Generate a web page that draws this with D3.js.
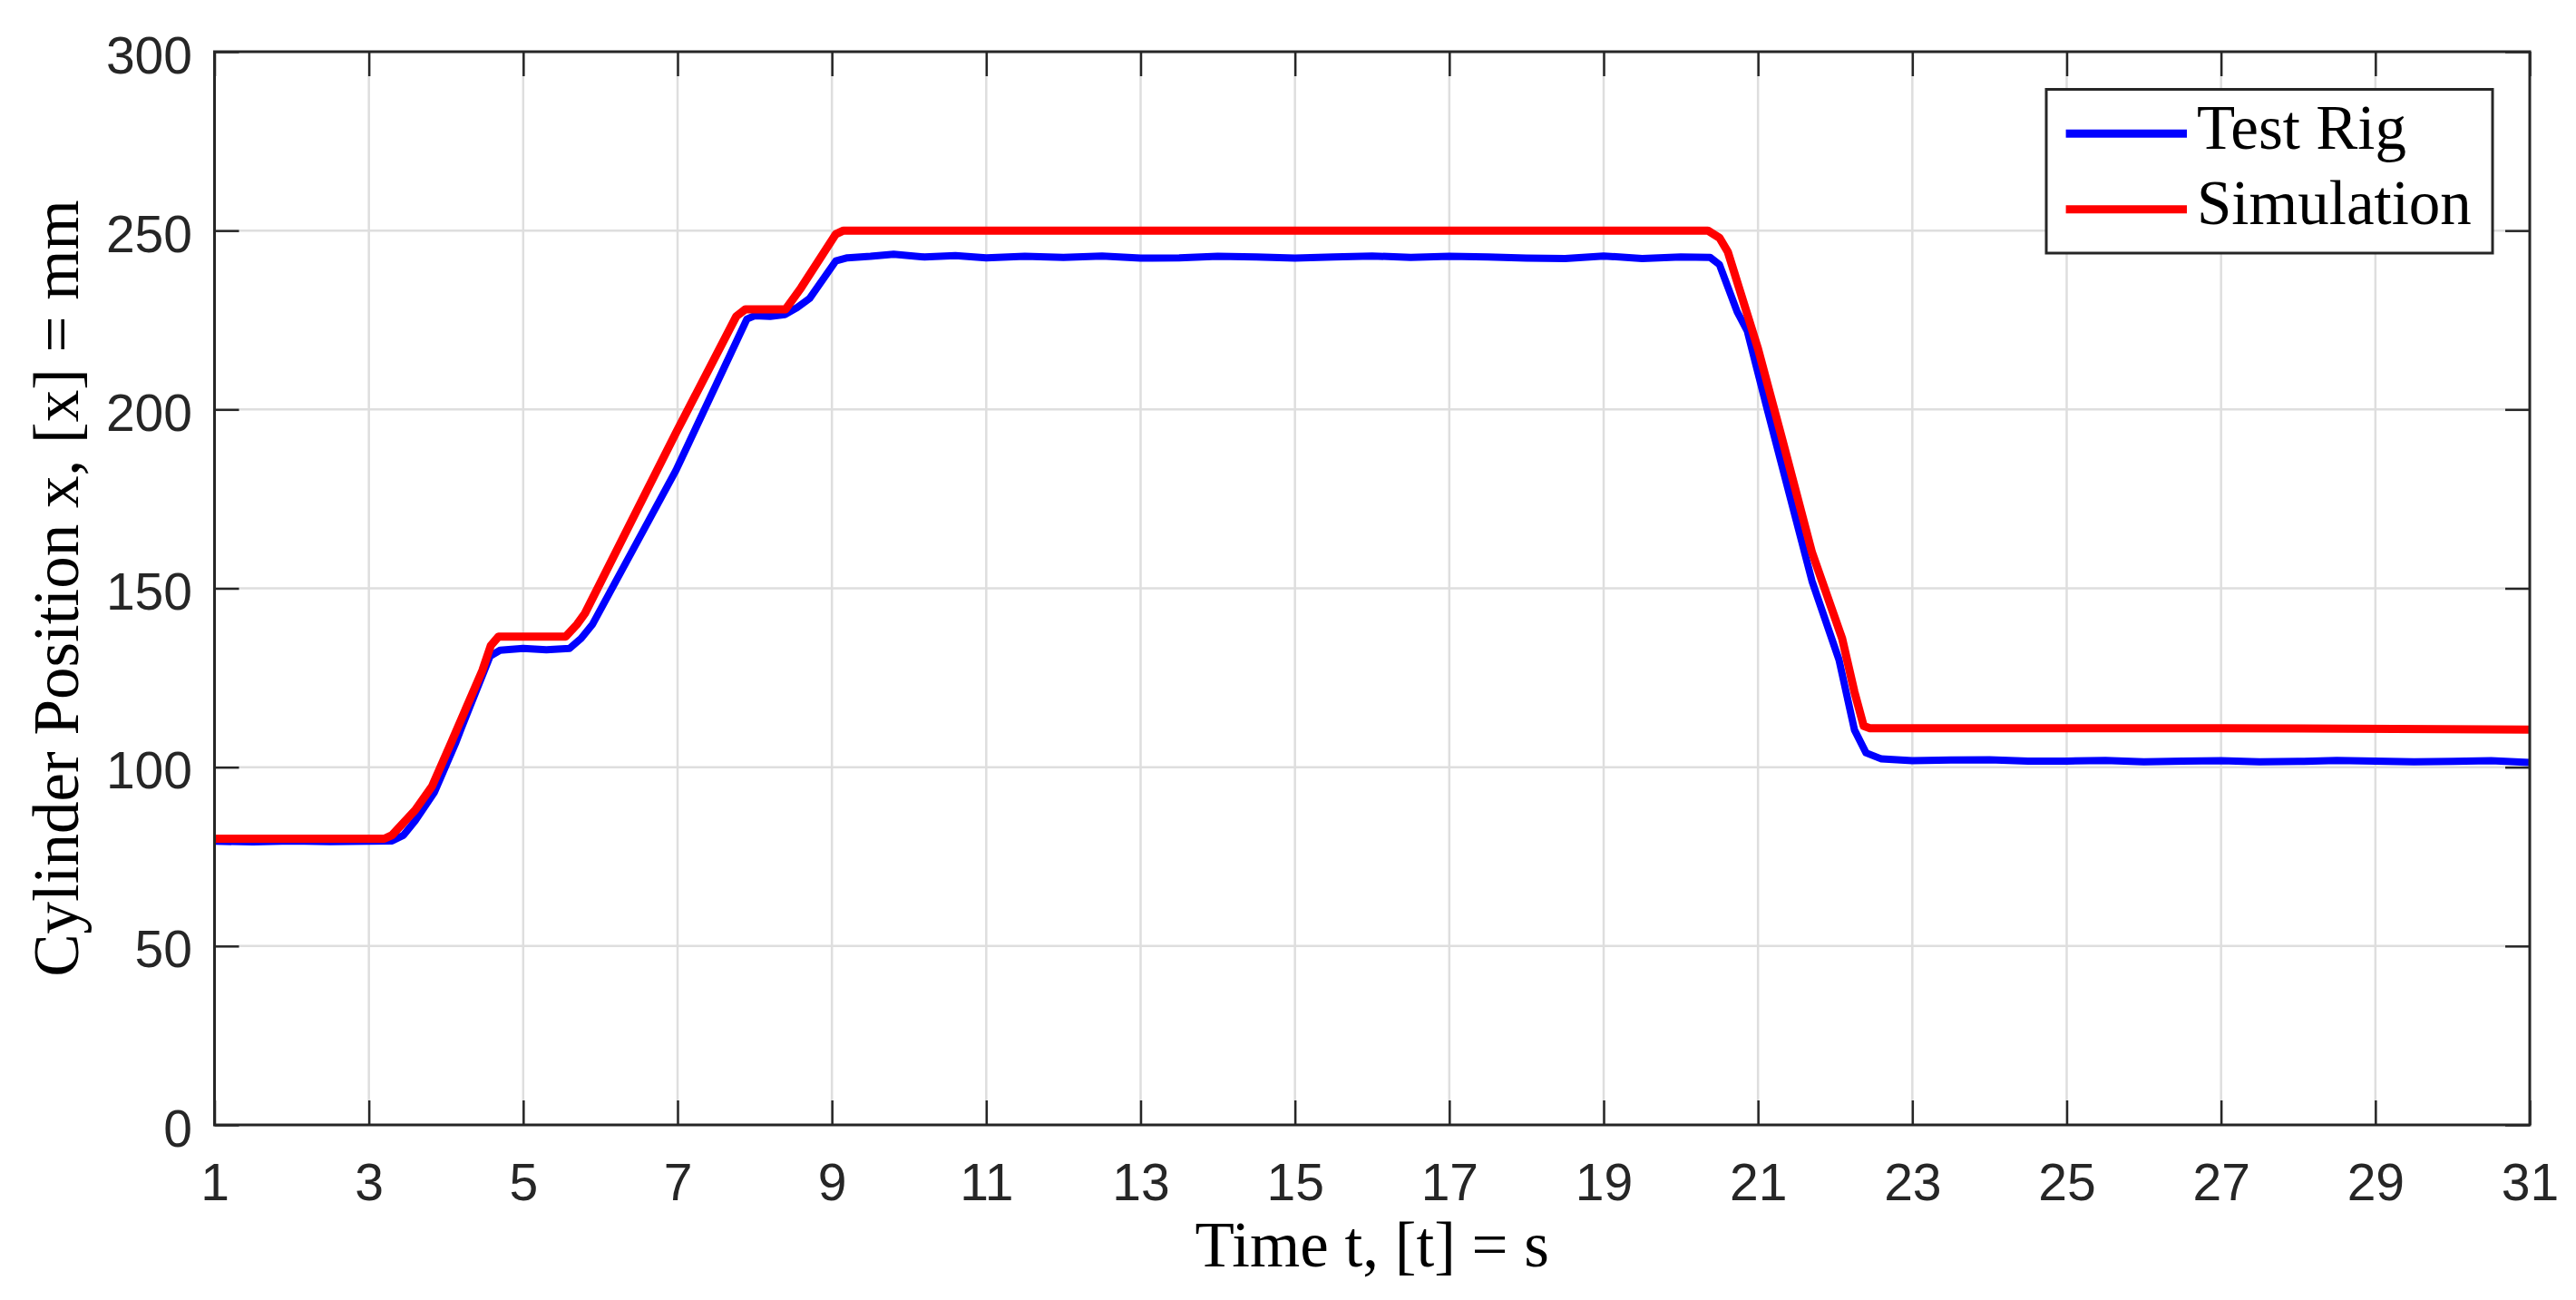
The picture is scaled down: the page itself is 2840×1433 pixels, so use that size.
<!DOCTYPE html>
<html>
<head>
<meta charset="utf-8">
<script src="https://cdn.jsdelivr.net/npm/d3@7"></script>
<style>
  html, body { margin: 0; padding: 0; background: #ffffff; }
  svg { display: block; }
</style>
</head>
<body>
<svg id="chart" width="2840" height="1433"></svg>
<script>
// ---- data ----
const xTicks = [1, 3, 5, 7, 9, 11, 13, 15, 17, 19, 21, 23, 25, 27, 29, 31];
const yTicks = [0, 50, 100, 150, 200, 250, 300];
const seriesNames = ["Test Rig", "Simulation"];
const seriesColors = ["#0000ff", "#ff0000"];
const xLabel = "Time t, [t] = s";
const yLabel = "Cylinder Position x, [x] = mm";

// Test Rig (measured) – time [s] and position [mm]
const rigTime = [1, 1.5, 2, 2.5, 3, 3.3, 3.45, 3.6, 3.85, 4.12, 4.2, 4.57, 4.7, 5.0, 5.3, 5.6, 5.75, 5.9, 6.98, 7.9, 8.0, 8.2, 8.39, 8.55, 8.71, 9.05, 9.2,
  9.5, 9.8, 10.2, 10.6, 11, 11.5, 12, 12.5, 13, 13.5, 14, 14.5, 15, 15.5, 16, 16.5, 17, 17.5, 18, 18.5, 19, 19.5, 20, 20.38,
  20.5, 20.73, 20.86, 21.12, 21.7, 22.05, 22.25, 22.4, 22.6, 23, 23.5, 24, 24.5, 25, 25.5, 26, 26.5, 27, 27.5, 28, 28.5, 29, 29.5, 30, 30.5, 31];
const rigPos = [79.3, 79.1, 79.4, 79.2, 79.3, 79.4, 81, 85, 93, 106.5, 111, 131, 132.7, 133.2, 132.8, 133.2, 136, 140, 183, 225.3, 226.2, 226.0, 226.5, 228.5, 231, 241.5, 242.4,
  242.8, 243.4, 242.6, 243.0, 242.4, 242.8, 242.5, 242.9, 242.3, 242.4, 242.8, 242.6, 242.3, 242.6, 242.9, 242.5, 242.8, 242.6, 242.3, 242.2, 242.9, 242.2, 242.6, 242.5,
  240.5, 227.3, 222, 200, 152, 130, 110.4, 104, 102.3, 101.8, 102.0, 102.1, 101.7, 101.7, 101.9, 101.5, 101.7, 101.8, 101.5, 101.6, 101.9, 101.7, 101.5, 101.6, 101.8, 101.3];

// Simulation – time [s] and position [mm]
const simTime = [1, 3.2, 3.3, 3.6, 3.82, 4.06, 4.15, 4.47, 4.58, 4.68, 5.55, 5.7, 5.8, 6.98, 7.76, 7.88, 8.4, 8.6, 9.05, 9.15, 20.35, 20.5, 20.61, 21, 21.31, 21.7, 22.09, 22.25, 22.37, 22.45, 27, 31];
const simPos  = [80, 80, 81, 88, 94.7, 106.5, 111, 127, 134, 136.5, 136.5, 140, 143, 193.5, 226, 228, 228, 234, 249, 250, 250, 248, 244, 217, 192, 160, 136, 121, 111.5, 110.9, 110.9, 110.5];

// ---- layout ----
const svg = d3.select("#chart");
const W = 2840, H = 1433;
const m = { left: 236.5, right: 2789, top: 57, bottom: 1240 };
const axisColor = "#262626";

svg.append("rect").attr("width", W).attr("height", H).attr("fill", "#ffffff");

const x = d3.scaleLinear().domain([1, 31]).range([m.left, m.right]);
const y = d3.scaleLinear().domain([0, 300]).range([m.bottom, m.top]);

// grid
const grid = svg.append("g");
grid.selectAll(".gx").data(xTicks.slice(1, -1)).join("line")
  .attr("x1", d => x(d)).attr("x2", d => x(d))
  .attr("y1", m.top).attr("y2", m.bottom)
  .attr("stroke", "#dedede").attr("stroke-width", 2.5);
grid.selectAll(".gy").data(yTicks.slice(1, -1)).join("line")
  .attr("y1", d => y(d)).attr("y2", d => y(d))
  .attr("x1", m.left).attr("x2", m.right)
  .attr("stroke", "#dedede").attr("stroke-width", 2.5);

// data lines
const line = d3.line().x(d => x(d[0])).y(d => y(d[1]));
const rigData = rigTime.map((t, i) => [t, rigPos[i]]);
const simData = simTime.map((t, i) => [t, simPos[i]]);

const clip = svg.append("clipPath").attr("id", "clip").append("rect")
  .attr("x", m.left).attr("y", m.top).attr("width", m.right - m.left).attr("height", m.bottom - m.top);

const plot = svg.append("g").attr("clip-path", "url(#clip)");
plot.append("path").datum(rigData).attr("d", line)
  .attr("fill", "none").attr("stroke", seriesColors[0]).attr("stroke-width", 8)
  .attr("stroke-linejoin", "round");
plot.append("path").datum(simData).attr("d", line)
  .attr("fill", "none").attr("stroke", seriesColors[1]).attr("stroke-width", 9)
  .attr("stroke-linejoin", "round");

// axes
const tickLen = 27;
const fontTick = "'Liberation Sans', Arial, sans-serif";

const gxB = svg.append("g").attr("transform", `translate(0,${m.bottom})`)
  .call(d3.axisBottom(x).tickValues(xTicks).tickSizeInner(-tickLen).tickSizeOuter(0).tickFormat(d3.format("d")));
const gxT = svg.append("g").attr("transform", `translate(0,${m.top})`)
  .call(d3.axisTop(x).tickValues(xTicks).tickSizeInner(-tickLen).tickSizeOuter(0).tickFormat(""));
const gyL = svg.append("g").attr("transform", `translate(${m.left},0)`)
  .call(d3.axisLeft(y).tickValues(yTicks).tickSizeInner(-tickLen).tickSizeOuter(0).tickFormat(d3.format("d")));
const gyR = svg.append("g").attr("transform", `translate(${m.right},0)`)
  .call(d3.axisRight(y).tickValues(yTicks).tickSizeInner(-tickLen).tickSizeOuter(0).tickFormat(""));

[gxB, gxT, gyL, gyR].forEach(g => {
  g.select(".domain").remove();
  g.selectAll(".tick line").attr("stroke", axisColor).attr("stroke-width", 2.5);
});

gxB.selectAll(".tick text")
  .attr("y", 83).attr("dy", null)
  .attr("font-family", fontTick).attr("font-size", 57).attr("fill", axisColor);
gyL.selectAll(".tick text")
  .attr("x", -24.5).attr("dy", null).attr("y", 23)
  .attr("font-family", fontTick).attr("font-size", 57).attr("fill", axisColor);

// box
svg.append("rect")
  .attr("x", m.left).attr("y", m.top)
  .attr("width", m.right - m.left).attr("height", m.bottom - m.top)
  .attr("fill", "none").attr("stroke", axisColor).attr("stroke-width", 3);

// axis labels
const fontSerif = "'Liberation Serif', 'Times New Roman', serif";
svg.append("text")
  .attr("x", (m.left + m.right) / 2).attr("y", 1396)
  .attr("text-anchor", "middle")
  .attr("font-family", fontSerif).attr("font-size", 71).attr("fill", "#000")
  .text(xLabel);
svg.append("text")
  .attr("transform", `translate(86,${(m.top + m.bottom) / 2}) rotate(-90)`)
  .attr("text-anchor", "middle")
  .attr("font-family", fontSerif).attr("font-size", 71).attr("fill", "#000")
  .text(yLabel);

// legend
const lg = svg.append("g");
lg.append("rect")
  .attr("x", 2256).attr("y", 98.5).attr("width", 2748 - 2256).attr("height", 279 - 98.5)
  .attr("fill", "#ffffff").attr("stroke", axisColor).attr("stroke-width", 3);
const legY = [147.3, 230.7];
seriesNames.forEach((name, i) => {
  lg.append("line")
    .attr("x1", 2277.6).attr("x2", 2411).attr("y1", legY[i]).attr("y2", legY[i])
    .attr("stroke", seriesColors[i]).attr("stroke-width", 9);
  lg.append("text")
    .attr("x", 2422).attr("y", legY[i] + 16.5)
    .attr("font-family", fontSerif).attr("font-size", 69).attr("fill", "#000")
    .text(name);
});
</script>
</body>
</html>
